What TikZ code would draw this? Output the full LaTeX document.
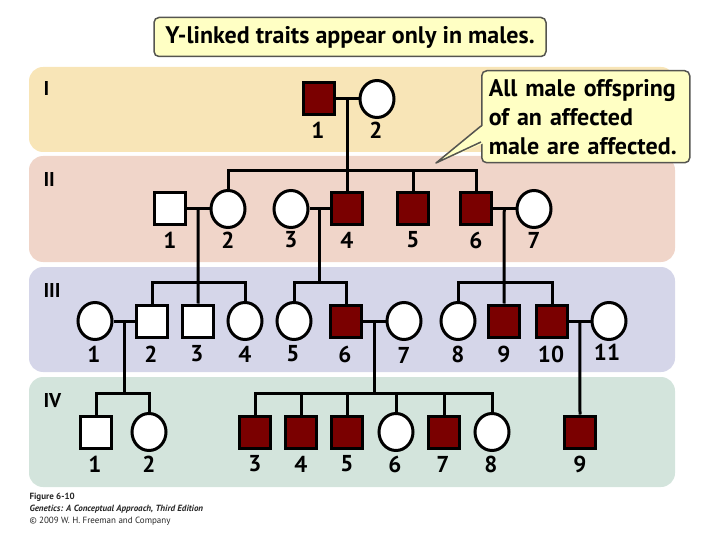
\documentclass[tikz,border=0pt]{standalone}
\usepackage{fontspec}
\setmainfont{PT Sans}
\usepackage{tikz}
\usetikzlibrary{positioning}
\usetikzlibrary{calc}
\usetikzlibrary{shapes.geometric}

\definecolor{bandI}{RGB}{248,229,183}
\definecolor{bandII}{RGB}{240,213,201}
\definecolor{bandIII}{RGB}{213,214,233}
\definecolor{bandIV}{RGB}{211,228,220}
\definecolor{affred}{RGB}{122,0,0}
\definecolor{notefill}{RGB}{255,255,196}
\definecolor{notegray}{RGB}{85,85,80}

\begin{document}
\begin{tikzpicture}[x=1pt, y=-1pt, line width=3pt,
    male/.style={draw, rectangle, minimum width=31pt, minimum height=32pt, inner sep=0pt, fill=white},
    female/.style={draw, ellipse, minimum width=34pt, minimum height=37pt, inner sep=0pt, fill=white},
    affected/.style={fill=affred},
    num/.style={font=\fontsize{23}{23}\selectfont\bfseries, inner sep=0pt},
    gen/.style={font=\fontsize{20}{20}\selectfont\bfseries, anchor=west, inner sep=0pt},
    note/.style={draw=notegray, line width=1.5pt, fill=notefill, rounded corners=5pt, inner sep=0pt},
    caption/.style={anchor=west, inner sep=0pt, text=black!85, font=\fontsize{9}{9}\selectfont}]

    \useasboundingbox (0,0) rectangle (720,540);

    \fill[bandI, rounded corners=14pt] (29,67) rectangle (675,152);
    \fill[bandII, rounded corners=14pt] (29,156) rectangle (675,262);
    \fill[bandIII, rounded corners=14pt] (29,267) rectangle (675,372);
    \fill[bandIV, rounded corners=14pt] (29,377) rectangle (675,487);

    \node[gen] (gI) at (42,89) {I};
    \node[gen] (gII) at (42,180) {II};
    \node[gen] (gIII) at (42,290) {III};
    \node[gen] (gIV) at (42,401) {IV};

    \node[note, minimum width=392pt, minimum height=39pt, font=\fontsize{24}{24}\selectfont\bfseries] (title) at (350,37) {Y-linked traits appear only in males.};

    \node[note, anchor=north west, minimum width=208pt, minimum height=92pt, inner xsep=7pt, text width=194pt, align=left,
        font=\fontsize{24}{29}\selectfont\bfseries] (remark) at (481,70)
        {All male offspring\\of an affected\\male are affected.};
    \coordinate (ptA) at (481,126);
    \coordinate (ptB) at (481,142);
    \coordinate (ptTip) at (436,163);
    \fill[notefill] (484,125) -- (ptTip) -- (484,143) -- cycle;
    \draw[notegray, line width=1.5pt, line join=round] (ptA) -- (ptTip) -- (ptB);

    \node[male, affected] (I1) at (318.5,99) {};
    \node[female] (I2) at (377,99) {};
    \node[num] (nI1) at (318,130) {1};
    \node[num] (nI2) at (376,130) {2};

    \node[male] (II1) at (170,209) {};
    \node[female] (II2) at (228,209) {};
    \node[female] (II3) at (291,209) {};
    \node[male, affected] (II4) at (347,209) {};
    \node[male, affected] (II5) at (413,209) {};
    \node[male, affected] (II6) at (476,209) {};
    \node[female] (II7) at (534,209) {};
    \node[num] (nII1) at (170,240) {1};
    \node[num] (nII2) at (228,240) {2};
    \node[num] (nII3) at (291,240) {3};
    \node[num] (nII4) at (347,240) {4};
    \node[num] (nII5) at (413,240) {5};
    \node[num] (nII6) at (476,240) {6};
    \node[num] (nII7) at (534,240) {7};

    \node[female] (III1) at (95,321) {};
    \node[male] (III2) at (152,321) {};
    \node[male] (III3) at (198,321) {};
    \node[female] (III4) at (245,321) {};
    \node[female] (III5) at (294,321) {};
    \node[male, affected] (III6) at (346,321) {};
    \node[female] (III7) at (404,321) {};
    \node[female] (III8) at (458,321) {};
    \node[male, affected] (III9) at (504,321) {};
    \node[male, affected] (III10) at (552,321) {};
    \node[female] (III11) at (609,321) {};
    \node[num] (nIII1) at (94,354) {1};
    \node[num] (nIII2) at (151,354) {2};
    \node[num] (nIII3) at (197,354) {3};
    \node[num] (nIII4) at (245,354) {4};
    \node[num] (nIII5) at (293,354) {5};
    \node[num] (nIII6) at (345,354) {6};
    \node[num] (nIII7) at (404,355) {7};
    \node[num] (nIII8) at (458,354) {8};
    \node[num] (nIII9) at (504,354) {9};
    \node[num] (nIII10) at (551,354) {10};
    \node[num] (nIII11) at (607,352) {11};

    \node[male] (IV1) at (96,432) {};
    \node[female] (IV2) at (149,432) {};
    \node[male, affected] (IV3) at (255,432) {};
    \node[male, affected] (IV4) at (301,432) {};
    \node[male, affected] (IV5) at (347,432) {};
    \node[female] (IV6) at (396,432) {};
    \node[male, affected] (IV7) at (444,432) {};
    \node[female] (IV8) at (492,432) {};
    \node[male, affected] (IV9) at (580,432) {};
    \node[num] (nIV1) at (95,464) {1};
    \node[num] (nIV2) at (149,464) {2};
    \node[num] (nIV3) at (255,464) {3};
    \node[num] (nIV4) at (301,464) {4};
    \node[num] (nIV5) at (347,464) {5};
    \node[num] (nIV6) at (395,464) {6};
    \node[num] (nIV7) at (443,464) {7};
    \node[num] (nIV8) at (491,464) {8};
    \node[num] (nIV9) at (580,464) {9};

    \coordinate (mI) at ($(I1.east)!0.5!(I2.west)$);
    \coordinate (sII) at ($(mI)+(0,72)$);
    \draw (I1) -- (I2);
    \draw (mI) -- (sII);
    \draw (II2.north) |- (sII) -| (II6.north);
    \draw (II4.north) -- (II4.north |- sII);
    \draw (II5.north) -- (II5.north |- sII);

    \coordinate (mII12) at ($(II1.east)!0.5!(II2.west)$);
    \coordinate (mII34) at ($(II3.east)!0.5!(II4.west)$);
    \coordinate (mII67) at ($(II6.east)!0.5!(II7.west)$);
    \coordinate (sIIIa) at ($(mII12)+(0,73)$);
    \coordinate (sIIIb) at ($(mII34)+(0,73)$);
    \coordinate (sIIIc) at ($(mII67)+(0,73)$);
    \draw (II1) -- (II2);
    \draw (II3) -- (II4);
    \draw (II6) -- (II7);
    \draw (mII12) -- (III3.north);
    \draw (III2.north) |- (sIIIa) -| (III4.north);
    \draw (mII34) -- (sIIIb);
    \draw (III5.north) |- (sIIIb) -| (III6.north);
    \draw (mII67) -- (III9.north);
    \draw (III8.north) |- (sIIIc) -| (III10.north);

    \coordinate (mIII12) at ($(III1.east)!0.5!(III2.west)$);
    \coordinate (mIII67) at ($(III6.east)!0.5!(III7.west)$);
    \coordinate (mIII1011) at ($(III10.east)!0.5!(III11.west)$);
    \coordinate (sIVa) at ($(mIII12)+(0,72)$);
    \coordinate (sIVb) at ($(mIII67)+(0,72)$);
    \draw (III1) -- (III2);
    \draw (III6) -- (III7);
    \draw (III10) -- (III11);
    \draw (mIII12) -- (sIVa);
    \draw (IV1.north) |- (sIVa) -| (IV2.north);
    \draw (mIII67) -- (sIVb);
    \draw (IV3.north) |- (sIVb) -| (IV8.north);
    \draw (IV4.north) -- (IV4.north |- sIVb);
    \draw (IV5.north) -- (IV5.north |- sIVb);
    \draw (IV6.north) -- (IV6.north |- sIVb);
    \draw (IV7.north) -- (IV7.north |- sIVb);
    \draw (mIII1011) -- (IV9.north);

    \node[caption, font=\fontsize{9}{9}\selectfont\bfseries] (cap1) at (28,497) {Figure 6-10};
    \node[caption, font=\fontsize{9}{9}\selectfont\bfseries\itshape] (cap2) at (28,509) {Genetics: A Conceptual Approach, Third Edition};
    \node[caption] (cap3) at (28,521) {© 2009 W. H. Freeman and Company};
\end{tikzpicture}
\end{document}
